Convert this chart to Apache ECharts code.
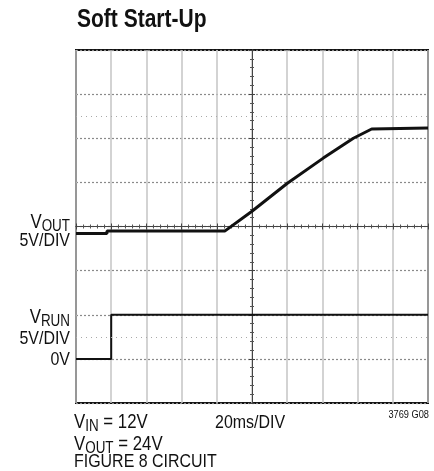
<!DOCTYPE html>
<html>
<head>
<meta charset="utf-8">
<script src="https://cdn.jsdelivr.net/npm/echarts@6/dist/echarts.min.js"></script>
<style>
  html, body { margin: 0; padding: 0; background: #fff; }
  #scope { width: 434px; height: 471px; }
</style>
</head>
<body>
<div id="scope"></div>
<script>
// time axis in ms (20ms/DIV), vertical axis in divisions counted from the bottom
const xTicks = [0, 20, 40, 60, 80, 100, 120, 140, 160, 180, 200]
const yDivs = [0, 1, 2, 3, 4, 5, 6, 7, 8]
const dottedDivs = [1.5, 6.5]

// V_OUT trace (5V/DIV)
const voutTime = [0, 17.6, 17.6, 84.7, 99.8, 120.1, 140.5, 157.6, 168.0, 200]
const voutDiv = [3.84, 3.84, 3.9, 3.9, 4.34, 4.98, 5.55, 6.0, 6.21, 6.23]

// V_RUN trace (5V/DIV, 0V at division 1)
const vrunTime = [0, 20, 20, 200]
const vrunDiv = [1, 1, 2, 2]

// no narrow font installed, so squeeze Liberation Sans horizontally
const FONT = "'Liberation Sans', Arial, sans-serif"
const NARROW = 0.84
const INK = '#111'
const MAIN = 20
const SUB = 16

const chart = echarts.init(document.getElementById('scope'), null, { renderer: 'canvas' })

const pair = (xs, ys) => xs.map((x, i) => [x, ys[i]])

const ctx = document.createElement('canvas').getContext('2d')
function textWidth(str, size) {
  ctx.font = size + 'px ' + FONT
  return ctx.measureText(str).width * NARROW
}

// label made of [text, isSubscript] pieces, laid out left to right
function label(x, y, parts, align, size) {
  const main = size || MAIN
  const widths = parts.map((p) => textWidth(p[0], p[1] ? SUB : main))
  const total = widths.reduce((a, b) => a + b, 0)
  let cx = align === 'right' ? x - total : x
  const pieces = []
  parts.forEach((p, i) => {
    const fs = p[1] ? SUB : main
    pieces.push({
      type: 'text',
      x: cx,
      y: p[1] ? y + 7 : y,
      scaleX: NARROW,
      style: { text: p[0], fontFamily: FONT, fontSize: fs, fill: INK, align: 'left', verticalAlign: 'top' },
    })
    cx += widths[i]
  })
  return pieces
}

const centerAxis = {
  type: 'value',
  min: 0,
  silent: true,
  axisLine: { show: true, lineStyle: { color: '#444', width: 1 } },
  axisTick: { show: true, length: 3, lineStyle: { color: '#444' } },
  minorTick: { show: true, splitNumber: 5, length: 2, lineStyle: { color: '#555' } },
  axisLabel: { show: false },
  splitLine: { show: false },
}

const option = {
  animation: false,
  backgroundColor: '#fff',
  grid: {
    left: 76,
    top: 50,
    width: 352,
    height: 353,
    show: true,
    borderColor: '#111',
    borderWidth: 2,
    backgroundColor: 'transparent',
  },
  xAxis: [
    {
      type: 'value',
      min: xTicks[0],
      max: xTicks[xTicks.length - 1],
      interval: xTicks[1] - xTicks[0],
      axisLine: { show: false },
      axisTick: { show: false },
      axisLabel: { show: false },
      splitLine: { show: true, lineStyle: { color: '#c4c4c4', width: 1.5 } },
    },
    Object.assign({}, centerAxis, { max: 200, interval: 20, position: 'bottom', offset: -176.5 }),
    Object.assign({}, centerAxis, { max: 200, interval: 20, position: 'top', offset: -176.5 }),
  ],
  yAxis: [
    {
      type: 'value',
      min: yDivs[0],
      max: yDivs[yDivs.length - 1],
      interval: 1,
      axisLine: { show: false },
      axisTick: { show: false },
      axisLabel: { show: false },
      splitLine: { show: true, lineStyle: { color: '#8a8a8a', width: 1.2, type: [2, 2] } },
    },
    Object.assign({}, centerAxis, { max: 8, interval: 1, position: 'left', offset: -176 }),
    Object.assign({}, centerAxis, { max: 8, interval: 1, position: 'right', offset: -176 }),
  ],
  graphic: [
    {
      type: 'text',
      x: 77,
      y: 8,
      scaleX: NARROW,
      style: { text: 'Soft Start-Up', fontFamily: FONT, fontWeight: 'bold', fontSize: 25, fill: INK, verticalAlign: 'top' },
    },
  ].concat(
    label(70, 212, [['V'], ['OUT', 1]], 'right'),
    label(70, 231, [['5V/DIV']], 'right', 19),
    label(70, 307, [['V'], ['RUN', 1]], 'right'),
    label(70, 329, [['5V/DIV']], 'right', 19),
    label(70, 350, [['0V']], 'right', 19),
    label(74, 412, [['V'], ['IN', 1], [' = 12V']], 'left'),
    label(215, 413, [['20ms/DIV']], 'left', 19),
    label(74, 434, [['V'], ['OUT', 1], [' = 24V']], 'left'),
    label(74, 452, [['FIGURE 8 CIRCUIT']], 'left', 19),
    label(429, 409, [['3769 G08']], 'right', 11)
  ),
  series: [
    {
      name: 'half-div',
      type: 'line',
      data: [],
      silent: true,
      markLine: {
        symbol: 'none',
        silent: true,
        label: { show: false },
        lineStyle: { color: '#a8a8a8', width: 1.2, type: [1, 4] },
        data: dottedDivs.map((d) => ({ yAxis: d })),
      },
    },
    {
      name: 'VRUN',
      type: 'line',
      data: pair(vrunTime, vrunDiv),
      symbol: 'none',
      lineStyle: { color: '#111', width: 2 },
    },
    {
      name: 'VOUT',
      type: 'line',
      data: pair(voutTime, voutDiv),
      symbol: 'none',
      lineStyle: { color: '#111', width: 3 },
    },
  ],
}
option && chart.setOption(option)
</script>
</body>
</html>
